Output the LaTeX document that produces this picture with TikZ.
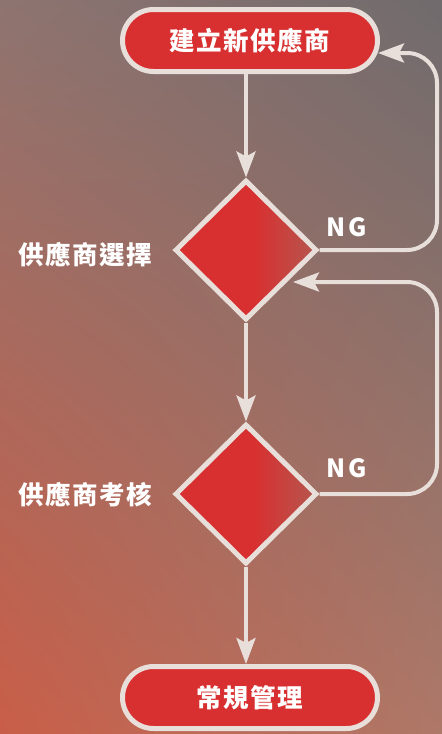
\documentclass[tikz,border=0pt]{standalone}
\usepackage{fontspec}
\usetikzlibrary{shapes.geometric,arrows.meta,shadings}
\newfontfamily\cjk{Noto Sans CJK TC}[LetterSpace=6]
\newfontfamily\ngfont{Noto Sans CJK TC}[LetterSpace=12]
\definecolor{bgTL}{HTML}{8E7470}
\definecolor{bgTR}{HTML}{706B6D}
\definecolor{bgBL}{HTML}{C95E48}
\definecolor{bgBR}{HTML}{AE7868}
\definecolor{pillred}{HTML}{D83030}
\definecolor{dred}{HTML}{D83030}
\definecolor{dbrown}{HTML}{B5564F}
\definecolor{edge}{HTML}{E8DEDA}
\pgfdeclarehorizontalshading{dshade}{100bp}{color(0bp)=(dred); color(25bp)=(dred); color(53bp)=(dred); color(75bp)=(dbrown); color(100bp)=(dbrown)}
\tikzset{
  pill/.style={draw=edge, line width=5pt, fill=pillred, rounded corners=31pt,
    minimum width=255pt, minimum height=62pt, inner sep=0pt,
    font=\cjk\bfseries\fontsize{25.5}{28}\selectfont, text=white},
  decision/.style={diamond, draw=edge, line width=5pt, shading=dshade, miter limit=10,
    minimum width=142pt, minimum height=140pt, inner sep=0pt},
  side/.style={font=\cjk\bfseries\fontsize{25.5}{28}\selectfont, text=white},
  nglab/.style={font=\ngfont\bfseries\fontsize{25}{28}\selectfont, text=white},
  conn/.style={draw=edge, line width=4pt, -{Stealth[length=26pt,width=19pt,inset=5pt]}},
}
\begin{document}
\begin{tikzpicture}[x=1pt,y=-1pt]
\useasboundingbox (0,0) rectangle (442,734);
\shade[lower left=bgBL, upper left=bgTL, upper right=bgTR, lower right=bgBR] (0,0) rectangle (442,734);
\node[pill] (top) at (250,40.5) {建立新供應商};
\node[pill] (bot) at (250,697.5) {常規管理};
\node[decision] (d1) at (246,250) {};
\node[decision] (d2) at (246,494) {};
\node[side] (l1) at (85,255) {供應商選擇};
\node[side] (l2) at (85,495) {供應商考核};
\node[nglab] (ng1) at (347,227) {NG};
\node[nglab] (ng2) at (347,468) {NG};
\coordinate (in1) at (378,53);
\coordinate (in2) at (293,282);
\draw[conn] (top.south -| d1.north) -- (d1.north);
\draw[conn] (d1.south) -- (d2.north);
\draw[conn] (d2.south) -- (d2.south |- bot.north);
\draw[conn, rounded corners=30pt] (d1.east) -- (437,250) -- (437,53) -- (in1);
\draw[conn, rounded corners=30pt] (d2.east) -- (437,494) -- (437,282) -- (in2);
\end{tikzpicture}
\end{document}
